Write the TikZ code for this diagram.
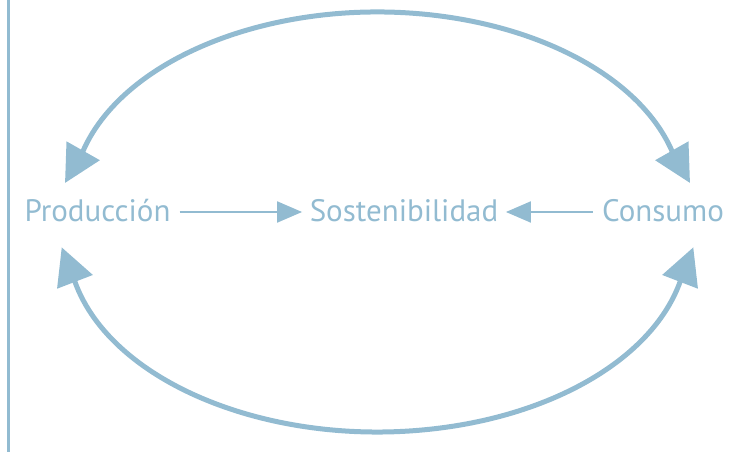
\documentclass[tikz,border=0pt]{standalone}
\usepackage{fontspec}
\setmainfont{PT Sans}
\usepackage{xcolor}
\usetikzlibrary{arrows.meta,
	calc,
	positioning}
\definecolor{cyclecol}{RGB}{146,187,209}

\begin{document}
\begin{tikzpicture}[x=1pt, y=1pt,
	term/.style={text=cyclecol, font=\fontsize{31}{36}\selectfont, inner xsep=0pt, text height=24pt, text depth=4pt},
	flow/.style={draw=cyclecol, line width=2pt, -{Triangle[length=25pt, width=21pt]}, shorten <=9pt, shorten >=7.5pt},
	loop/.style={draw=cyclecol, line width=5pt, {Triangle[length=37pt, width=37pt]}-{Triangle[length=37pt, width=37pt]}}]
	\useasboundingbox (0, 0) rectangle (733, 452);
	\draw[cyclecol, line width=3pt] (8.5, 0) -- (8.5, 452);
	% the three terms
	\node[term] (prod) at (97.5, 240) {Producción};
	\node[term] (sost) at (404, 240) {Sostenibilidad};
	\node[term] (cons) at (663, 240) {Consumo};
	\draw[flow] (prod) -- (sost);
	\draw[flow] (cons) -- (sost);
	% ends of the two loops
	\coordinate (prodtop) at (65, 269);
	\coordinate (constop) at (690, 269);
	\coordinate (prodbot) at (61.7, 204.7);
	\coordinate (consbot) at (693.3, 204.7);
	\coordinate (ctop) at (377.5, 252);
	\coordinate (cbot) at (377.5, 212);
	\draw[loop] (prodtop) -- ($(ctop)+(165:305 and 188)$) arc[start angle=165, end angle=15, x radius=305, y radius=188] -- (constop);
	\draw[loop] (prodbot) -- ($(cbot)+(192.5:310 and 192)$) arc[start angle=192.5, end angle=347.5, x radius=310, y radius=192] -- (consbot);
\end{tikzpicture}
\end{document}
